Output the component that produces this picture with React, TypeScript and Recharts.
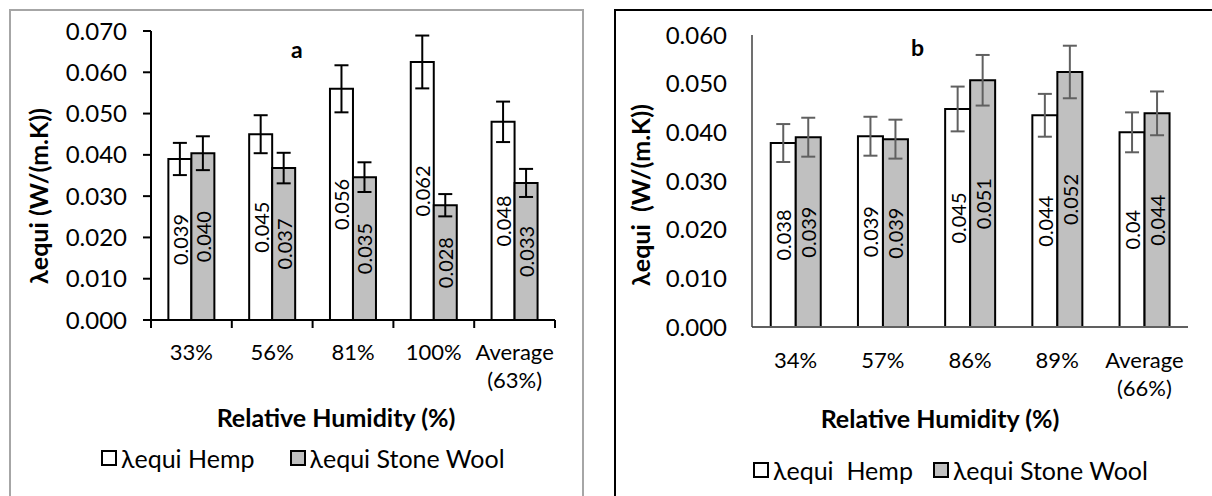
import { BarChart, Bar, XAxis, YAxis, ErrorBar, LabelList, Legend } from 'recharts';

const FONT = 'Lato, "Open Sans", sans-serif';

// panel a
const catsA = ['33%', '56%', '81%', '100%', 'Average (63%)'];
const hempA = [0.039, 0.045, 0.056, 0.0625, 0.048];
const hempErrA = [0.0039, 0.0046, 0.0057, 0.0064, 0.0049];
const hempLblA = ['0.039', '0.045', '0.056', '0.062', '0.048'];
const woolA = [0.0404, 0.0368, 0.0346, 0.0278, 0.0332];
const woolErrA = [0.0041, 0.0037, 0.0036, 0.0027, 0.0034];
const woolLblA = ['0.040', '0.037', '0.035', '0.028', '0.033'];
const ticksA = [0, 0.01, 0.02, 0.03, 0.04, 0.05, 0.06, 0.07];
const namesA = ['λequi Hemp', 'λequi Stone Wool'];

// panel b
const catsB = ['34%', '57%', '86%', '89%', 'Average (66%)'];
const hempB = [0.0378, 0.0392, 0.0448, 0.0435, 0.04];
const hempErrB = [0.0039, 0.004, 0.0046, 0.0044, 0.0041];
const hempLblB = ['0.038', '0.039', '0.045', '0.044', '0.04'];
const woolB = [0.039, 0.0386, 0.0507, 0.0524, 0.0439];
const woolErrB = [0.004, 0.004, 0.0052, 0.0054, 0.0045];
const woolLblB = ['0.039', '0.039', '0.051', '0.052', '0.044'];
const ticksB = [0, 0.01, 0.02, 0.03, 0.04, 0.05, 0.06];
const namesB = ['λequi  Hemp', 'λequi Stone Wool'];

const FILLS = ['#ffffff', '#c0c0c0'];

const makeRows = (cats: string[], h: number[], he: number[], hl: string[], w: number[], we: number[], wl: string[]) =>
  cats.map((cat, i) => ({ cat, hemp: h[i], hempErr: he[i], hempLbl: hl[i], wool: w[i], woolErr: we[i], woolLbl: wl[i] }));

const dataA = makeRows(catsA, hempA, hempErrA, hempLblA, woolA, woolErrA, woolLblA);
const dataB = makeRows(catsB, hempB, hempErrB, hempLblB, woolB, woolErrB, woolLblB);

// rotated value label in the middle of the bar
const barLabel = (props: any) => {
  const vb = props.viewBox ?? props;
  const cx = vb.x + vb.width / 2;
  const cy = vb.y + vb.height / 2;
  return (
    <text x={cx} y={cy} transform={`rotate(-90 ${cx} ${cy})`} textAnchor="middle" dominantBaseline="central"
      fontSize={20} fontFamily={FONT} fill="#000">
      {props.value}
    </text>
  );
};

const CatTick = (props: any) => {
  const { x, y, payload, index, last, boundary, dy1 } = props;
  const parts = String(payload.value).split(' ');
  const half = payload.offset ?? 40;
  return (
    <g>
      {boundary && <line x1={x - half} x2={x - half} y1={y} y2={y + 8} stroke="#000" strokeWidth={2} />}
      {boundary && index === last && <line x1={x + half} x2={x + half} y1={y} y2={y + 8} stroke="#000" strokeWidth={2} />}
      <text x={x} y={y} textAnchor="middle" fontSize={22} fontFamily={FONT} fill="#000">
        {parts.map((p, i) => (
          <tspan key={i} x={x} dy={i === 0 ? dy1 : 28}>{p}</tspan>
        ))}
      </text>
    </g>
  );
};

const legendContent = (gap: number) => ({ payload }: any) => (
  <div style={{ display: 'flex', alignItems: 'center', fontFamily: FONT, fontSize: 25, color: '#000', whiteSpace: 'pre', lineHeight: '28px' }}>
    {(payload || []).map((e: any, i: number) => (
      <span key={i} style={{ display: 'flex', alignItems: 'center', marginRight: i === 0 ? gap : 0 }}>
        <span style={{ width: 12, height: 12, border: '2px solid #000', background: FILLS[i], marginRight: 4, display: 'inline-block' }} />
        {e.value}
      </span>
    ))}
  </div>
);

type PanelProps = {
  data: any[];
  ticks: number[];
  names: string[];
  left: number;
  width: number;
  margin: { top: number; right: number; bottom: number; left: number };
  axisW: number;
  errColor: string;
  boundary: boolean;
  dy1: number;
  titleDx: number;
  titleDy: number;
  yTitleDx: number;
  yTitleY: number;
  legendTop: number;
  legendLeft: number;
  legendGap: number;
  yLine: { stroke: string; strokeWidth: number };
  xLine: { stroke: string; strokeWidth: number };
  yTickSize: number;
  yTickMargin: number;
  yTitle: string;
};

function Panel(p: PanelProps) {
  const max = p.ticks[p.ticks.length - 1];
  return (
    <div style={{ position: 'absolute', left: p.left, top: 0 }}>
      <BarChart width={p.width} height={496} data={p.data} margin={p.margin} barGap={0} barCategoryGap="21.5%">
        <XAxis
          dataKey="cat"
          interval={0}
          height={120}
          tickSize={0}
          tickMargin={0}
          tickLine={false}
          axisLine={p.xLine}
          tick={(tp: any) => <CatTick {...tp} boundary={p.boundary} last={p.data.length - 1} dy1={p.dy1} />}
          label={{
            content: ({ viewBox }: any) => (
              <text x={viewBox.x + viewBox.width / 2 + p.titleDx} y={viewBox.y + p.titleDy} textAnchor="middle"
                dominantBaseline="central" fontSize={25} fontWeight="bold" fontFamily={FONT} fill="#000">
                Relative Humidity (%)
              </text>
            ),
          }}
        />
        <YAxis
          type="number"
          domain={[0, max]}
          ticks={p.ticks}
          allowDataOverflow
          width={p.axisW}
          tickFormatter={(v: number) => v.toFixed(3)}
          tick={{ fontSize: 24, fill: '#000', fontFamily: FONT }}
          tickSize={p.yTickSize}
          tickMargin={p.yTickMargin}
          tickLine={p.yTickSize > 0 ? { stroke: '#000', strokeWidth: 2 } : false}
          axisLine={p.yLine}
          label={{
            content: ({ viewBox }: any) => {
              const cx = viewBox.x + p.yTitleDx;
              return (
                <text x={cx} y={p.yTitleY} transform={`rotate(-90 ${cx} ${p.yTitleY})`} textAnchor="middle"
                  dominantBaseline="central" fontSize={25} fontWeight="bold" fontFamily={FONT} fill="#000"
                  style={{ whiteSpace: 'pre' }}>
                  {p.yTitle}
                </text>
              );
            },
          }}
        />
        <Legend
          layout="horizontal"
          verticalAlign="middle"
          align="center"
          wrapperStyle={{ top: p.legendTop, left: p.legendLeft, width: 540 }}
          content={legendContent(p.legendGap)}
        />
        <Bar dataKey="hemp" name={p.names[0]} fill={FILLS[0]} stroke="#000" strokeWidth={2} isAnimationActive={false}>
          <ErrorBar dataKey="hempErr" width={7} stroke={p.errColor} strokeWidth={2} />
          <LabelList dataKey="hempLbl" content={barLabel} />
        </Bar>
        <Bar dataKey="wool" name={p.names[1]} fill={FILLS[1]} stroke="#000" strokeWidth={2} isAnimationActive={false}>
          <ErrorBar dataKey="woolErr" width={7} stroke={p.errColor} strokeWidth={2} />
          <LabelList dataKey="woolLbl" content={barLabel} />
        </Bar>
      </BarChart>
    </div>
  );
}

export default function App() {
  return (
    <div style={{ position: 'absolute', left: 0, top: 0, width: 1212, height: 496, overflow: 'hidden', background: '#fff' }}>
      <div style={{ position: 'absolute', left: 9, top: 9, width: 575, height: 520, border: '2px solid #a6a6a6', boxSizing: 'border-box' }} />
      <div style={{ position: 'absolute', left: 614, top: 9, width: 700, height: 520, border: '2px solid #000', boxSizing: 'border-box' }} />
      <Panel
        data={dataA}
        ticks={ticksA}
        names={namesA}
        left={0}
        width={600}
        margin={{ top: 31, right: 45, bottom: 56, left: 0 }}
        axisW={151}
        errColor="#000"
        boundary
        dy1={39.5}
        titleDx={-17}
        titleDy={97}
        yTitleDx={38}
        yTitleY={196}
        legendTop={444}
        legendLeft={101}
        legendGap={35}
        yLine={{ stroke: '#000', strokeWidth: 2 }}
        xLine={{ stroke: '#000', strokeWidth: 2 }}
        yTickSize={8}
        yTickMargin={16}
        yTitle="λequi (W/(m.K))"
      />
      <Panel
        data={dataB}
        ticks={ticksB}
        names={namesB}
        left={600}
        width={612}
        margin={{ top: 35, right: 24, bottom: 49, left: 0 }}
        axisW={152}
        errColor="#606060"
        boundary={false}
        dy1={40.5}
        titleDx={-30}
        titleDy={91}
        yTitleDx={40}
        yTitleY={195}
        legendTop={456}
        legendLeft={153}
        legendGap={20}
        yLine={{ stroke: '#404040', strokeWidth: 1.5 }}
        xLine={{ stroke: '#606060', strokeWidth: 2 }}
        yTickSize={0}
        yTickMargin={25}
        yTitle="λequi  (W/(m.K))"
      />
      <div style={{ position: 'absolute', left: 291, top: 35, fontFamily: FONT, fontWeight: 'bold', fontSize: 23, color: '#000' }}>a</div>
      <div style={{ position: 'absolute', left: 911, top: 33, fontFamily: FONT, fontWeight: 'bold', fontSize: 23, color: '#000' }}>b</div>
    </div>
  );
}
